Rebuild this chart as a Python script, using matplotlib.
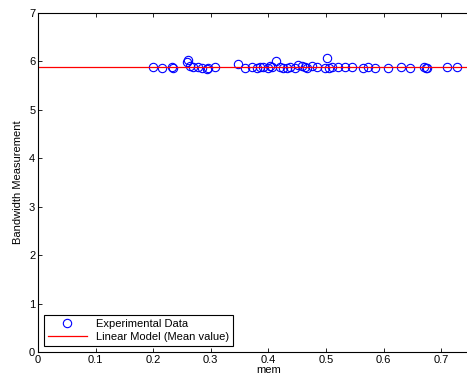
import matplotlib
matplotlib.use("Agg")
import matplotlib.pyplot as plt
import numpy as np

# values
mem = [0.199, 0.215, 0.232, 0.235, 0.258, 0.260, 0.264, 0.269, 0.278, 0.284,
       0.293, 0.295, 0.307, 0.347, 0.360, 0.371, 0.380, 0.385, 0.391, 0.400,
       0.403, 0.406, 0.414, 0.420, 0.426, 0.432, 0.438, 0.446, 0.452, 0.458,
       0.464, 0.467, 0.475, 0.484, 0.498, 0.501, 0.505, 0.510, 0.521, 0.533,
       0.545, 0.565, 0.573, 0.585, 0.608, 0.631, 0.646, 0.670, 0.674, 0.676,
       0.710, 0.727]
bandwidth = [5.88, 5.87, 5.88, 5.87, 5.98, 6.02, 5.90, 5.88, 5.89, 5.87,
             5.85, 5.86, 5.88, 5.95, 5.87, 5.88, 5.87, 5.89, 5.88, 5.87,
             5.90, 5.88, 6.00, 5.88, 5.86, 5.87, 5.88, 5.87, 5.93, 5.90,
             5.88, 5.87, 5.91, 5.88, 5.87, 6.08, 5.87, 5.88, 5.89, 5.88,
             5.88, 5.87, 5.89, 5.86, 5.87, 5.88, 5.87, 5.88, 5.87, 5.86,
             5.88, 5.88]
mean_value = 5.88
x_range = [0.0, 0.8]

plt.rcParams["font.family"] = ["Liberation Sans", "DejaVu Sans"]
plt.rcParams["font.size"] = 8

fig = plt.figure(figsize=(4.67, 3.85), dpi=100)
ax = fig.add_axes([38 / 467, 33 / 385, 576 * 0.8 / 467, 339 / 385])

ax.plot(mem, bandwidth, "o", markersize=6, markerfacecolor="none",
        markeredgecolor="#0000ff", markeredgewidth=0.8, label="Experimental Data")
ax.plot(x_range, [mean_value, mean_value], "-", color="#ff0000", linewidth=0.9,
        label="Linear Model (Mean value)")

ax.set_xlim(0, 0.8)
ax.set_ylim(0, 7)
ax.set_xticks(np.arange(0, 0.71, 0.1))
ax.set_xticklabels(["0", "0.1", "0.2", "0.3", "0.4", "0.5", "0.6", "0.7"])
ax.set_yticks(range(8))
ax.tick_params(direction="in", length=3, width=0.6, top=True, right=True, pad=2)
for s in ax.spines.values():
    s.set_linewidth(0.8)
ax.set_xlabel("mem", labelpad=0)
ax.set_ylabel("Bandwidth Measurement", labelpad=4)

leg = ax.legend(loc="lower left", bbox_to_anchor=(0.006, 0.008), fancybox=False,
                edgecolor="black", framealpha=1, borderpad=0.35, labelspacing=0.25,
                handlelength=3.5, handletextpad=0.8, borderaxespad=0.3)
leg.get_frame().set_linewidth(0.8)

fig.savefig("out.png", dpi=100)
